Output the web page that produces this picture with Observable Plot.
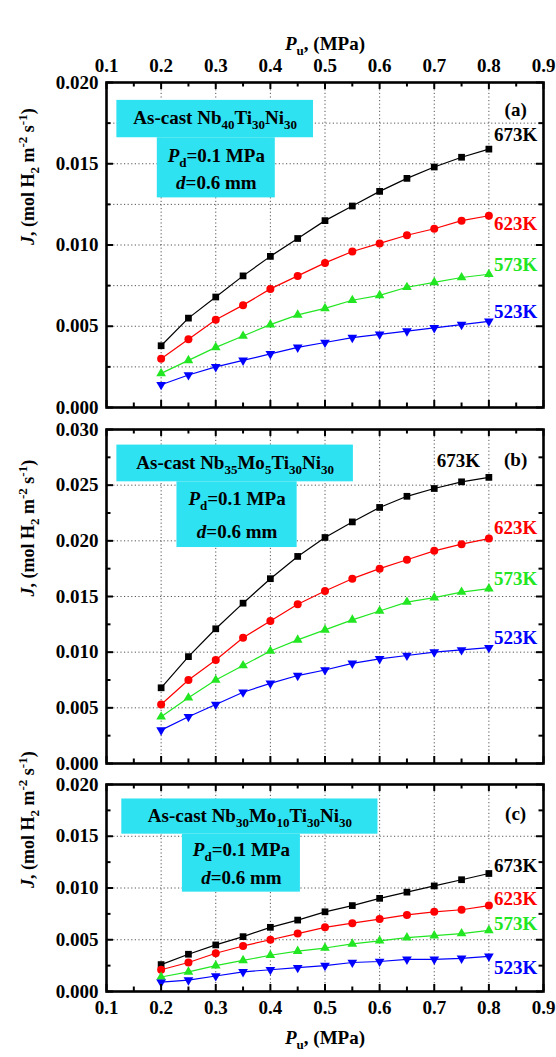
<!DOCTYPE html>
<html><head><meta charset="utf-8">
<script src="https://cdn.jsdelivr.net/npm/d3@7"></script>
<script src="https://cdn.jsdelivr.net/npm/@observablehq/plot@0.6"></script>
<style>
body{margin:0;background:#fff;}
#chart{position:relative;width:556px;height:1057px;background:#fff;}
#chart svg{position:absolute;left:0;overflow:visible;}
</style></head><body><div id="chart"></div>
<script>
// ---------- data ----------
const pu = [0.20,0.25,0.30,0.35,0.40,0.45,0.50,0.55,0.60,0.65,0.70,0.75,0.80];
const temps = ["673K","623K","573K","523K"];

const a673 = [0.0038,0.0055,0.0068,0.0081,0.0093,0.0104,0.0115,0.0124,0.0133,0.0141,0.0148,0.0154,0.0159];
const a623 = [0.0030,0.0042,0.0054,0.0063,0.0073,0.0081,0.0089,0.0096,0.0101,0.0106,0.0110,0.0115,0.0118];
const a573 = [0.0021,0.0029,0.0037,0.0044,0.0051,0.0057,0.0061,0.0066,0.0069,0.0074,0.0077,0.0080,0.0082];
const a523 = [0.0014,0.0020,0.0025,0.0029,0.0033,0.0037,0.0040,0.0043,0.0045,0.0047,0.0049,0.0051,0.0053];

const b673 = [0.0068,0.0096,0.0121,0.0144,0.0166,0.0186,0.0203,0.0217,0.0230,0.0240,0.0247,0.0253,0.0257];
const b623 = [0.0053,0.0075,0.0093,0.0113,0.0128,0.0143,0.0155,0.0166,0.0175,0.0183,0.0191,0.0197,0.0202];
const b573 = [0.0042,0.0059,0.0075,0.0088,0.0101,0.0111,0.0120,0.0129,0.0137,0.0145,0.0149,0.0154,0.0157];
const b523 = [0.0030,0.0042,0.0053,0.0064,0.0072,0.0079,0.0084,0.0090,0.0094,0.0097,0.0100,0.0102,0.0104];

const c673 = [0.0026,0.0036,0.0045,0.0053,0.0062,0.0069,0.0077,0.0083,0.0090,0.0096,0.0102,0.0108,0.0114];
const c623 = [0.0021,0.0028,0.0037,0.0044,0.0050,0.0056,0.0062,0.0066,0.0070,0.0074,0.0077,0.0079,0.0083];
const c573 = [0.0014,0.0019,0.0025,0.0030,0.0035,0.0039,0.0042,0.0046,0.0049,0.0052,0.0054,0.0056,0.0059];
const c523 = [0.0009,0.0011,0.0015,0.0019,0.0021,0.0023,0.0025,0.0028,0.0029,0.0031,0.0031,0.0032,0.0034];

const xTickLabels = [0.1,0.2,0.3,0.4,0.5,0.6,0.7,0.8,0.9];
const xMinorTicks = [0.15,0.25,0.35,0.45,0.55,0.65,0.75,0.85];
const xGridValues = [0.2,0.3,0.4,0.5,0.6,0.7,0.8];

const yTicksA = [0,0.005,0.010,0.015,0.020];
const yTicksB = [0,0.005,0.010,0.015,0.020,0.025,0.030];
const yTicksC = [0,0.005,0.010,0.015,0.020];
const yMinorA = [0.0025,0.0075,0.0125,0.0175];
const yMinorB = [0.0025,0.0075,0.0125,0.0175,0.0225,0.0275];
const yMinorC = [0.0025,0.0075,0.0125,0.0175];
const yGridA = [0.0025,0.005,0.0075,0.010,0.0125,0.015,0.0175];
const yGridB = [0.005,0.010,0.015,0.020,0.025];
const yGridC = [0.005,0.010,0.015];

const alloyA = "As-cast Nb_{40}Ti_{30}Ni_{30}";
const alloyB = "As-cast Nb_{35}Mo_{5}Ti_{30}Ni_{30}";
const alloyC = "As-cast Nb_{30}Mo_{10}Ti_{30}Ni_{30}";
const yLabel = "*J*, (mol H_{2} m^{-2} s^{-1})";
const xLabel = "*P*_{u}, (MPa)";
const pdLine = "*P*_{d}=0.1 MPa";
const dLine = "*d*=0.6 mm";

// ---------- styles ----------
const colors = ["#000000","#ff0000","#22e622","#0000ff"];
const symbols = ["square","circle","triangle","triangle"];
const rotations = [0,0,0,180];
const sizes = [3.8,4.0,3.6,3.6];
const boxColor = "#2ee2f2";
const FONT = "'Liberation Serif','Times New Roman',serif";
const W = 556, ML = 106, MR = 13, FW = W - ML - MR;

// markup: *italic*, _{sub}, ^{sup}
function rich(s){
  const segs = [];
  const re = /\*([^*]+)\*|_\{([^}]*)\}|\^\{([^}]*)\}|([^*_^]+)/g;
  let m;
  while ((m = re.exec(s))) {
    if (m[1] !== undefined) segs.push({t:m[1], k:"i"});
    else if (m[2] !== undefined) segs.push({t:m[2], k:"sub"});
    else if (m[3] !== undefined) segs.push({t:m[3], k:"sup"});
    else segs.push({t:m[4], k:"n"});
  }
  let cur = 0, out = "";
  for (const g of segs) {
    const off = g.k === "sub" ? 5 : g.k === "sup" ? -7 : 0;
    const dy = off - cur; cur = off;
    let attrs = dy ? ` dy="${dy}"` : "";
    if (g.k === "sub" || g.k === "sup") attrs += ` font-size="13"`;
    if (g.k === "i") attrs += ` font-style="italic"`;
    out += `<tspan${attrs}>${g.t}</tspan>`;
  }
  return out;
}

function panel(cfg){
  const H = cfg.height, FH = H - cfg.mt - cfg.mb;
  const marks = [];
  marks.push(Plot.gridX(xGridValues, {stroke:"#444", strokeOpacity:0.9, strokeWidth:1, strokeDasharray:"1.2,2.4"}));
  marks.push(Plot.gridY(cfg.yGrid, {stroke:"#444", strokeOpacity:0.9, strokeWidth:1, strokeDasharray:"1.2,2.4"}));
  marks.push(Plot.rect(cfg.boxes, {x1:"x1", x2:"x2", y1:"y1", y2:"y2", fill:boxColor}));
  cfg.series.forEach((vals,i)=>{
    const d = pu.map((p,j)=>({p, v: vals[j]}));
    marks.push(Plot.line(d, {x:"p", y:"v", stroke:colors[i], strokeWidth:1.2}));
    marks.push(Plot.dot(d, {x:"p", y:"v", fill:colors[i], symbol:symbols[i], r:sizes[i], rotate:rotations[i]}));
  });
  marks.push(Plot.text(cfg.labels.map((l,i)=>({x:l[0], y:l[1], t:temps[i], c:colors[i]})),
    {x:"x", y:"y", text:"t", fill:"c", textAnchor:"middle", fontSize:19, fontWeight:"bold"}));
  marks.push(Plot.text([cfg.tag], {x:d=>d.x, y:d=>d.y, text:d=>d.t, fill:"black", textAnchor:"middle", fontSize:19, fontWeight:"bold"}));
  marks.push(Plot.text(cfg.boxText, {x:"x", y:"y", text:"t", fill:"black", textAnchor:"middle", fontSize:19, fontWeight:"bold", className:"richtext"}));
  marks.push(Plot.frame({stroke:"black", strokeWidth:2.6}));
  const tw = 2;
  marks.push(Plot.tickY(cfg.yTicks, {y:d=>d, insetRight:FW-7, stroke:"black", strokeWidth:tw}));
  marks.push(Plot.tickY(cfg.yTicks, {y:d=>d, insetLeft:FW-7, stroke:"black", strokeWidth:tw}));
  marks.push(Plot.tickY(cfg.yMinor, {y:d=>d, insetRight:FW-4.5, stroke:"black", strokeWidth:tw}));
  marks.push(Plot.tickY(cfg.yMinor, {y:d=>d, insetLeft:FW-4.5, stroke:"black", strokeWidth:tw}));
  marks.push(Plot.tickX(xTickLabels, {x:d=>d, insetTop:FH-7, stroke:"black", strokeWidth:tw}));
  marks.push(Plot.tickX(xTickLabels, {x:d=>d, insetBottom:FH-7, stroke:"black", strokeWidth:tw}));
  marks.push(Plot.tickX(xMinorTicks, {x:d=>d, insetTop:FH-4.5, stroke:"black", strokeWidth:tw}));
  marks.push(Plot.tickX(xMinorTicks, {x:d=>d, insetBottom:FH-4.5, stroke:"black", strokeWidth:tw}));
  marks.push(Plot.axisY(cfg.yTicks, {anchor:"left", tickSize:0, tickPadding:8, tickFormat:d3.format(".3f"), label:null, fontSize:19, fontWeight:"bold"}));
  if (cfg.topAxis) {
    marks.push(Plot.axisX(xTickLabels, {anchor:"top", tickSize:0, tickPadding:11, tickFormat:d3.format(".1f"), label:null, fontSize:19, fontWeight:"bold"}));
    marks.push(Plot.text([xLabel], {frameAnchor:"top", dy:-46, text:d=>d, fontSize:19, fontWeight:"bold", className:"richtext"}));
  }
  if (cfg.bottomAxis) {
    marks.push(Plot.axisX(xTickLabels, {anchor:"bottom", tickSize:0, tickPadding:9, tickFormat:d3.format(".1f"), label:null, fontSize:19, fontWeight:"bold"}));
    marks.push(Plot.text([xLabel], {frameAnchor:"bottom", dy:52, text:d=>d, fontSize:19, fontWeight:"bold", className:"richtext"}));
  }
  marks.push(Plot.text([yLabel], {frameAnchor:"left", dx:-78, rotate:-90, text:d=>d, fontSize:18, fontWeight:"bold", className:"richtext"}));

  const svg = Plot.plot({
    width:W, height:H, marginLeft:ML, marginRight:MR, marginTop:cfg.mt, marginBottom:cfg.mb,
    style:{fontFamily:FONT, background:"transparent", overflow:"visible", color:"black"},
    x:{domain:[0.1,0.9], axis:null},
    y:{domain:[0,cfg.yMax], axis:null},
    marks
  });
  svg.style.top = cfg.top + "px";
  d3.select(svg).selectAll("g.richtext text").each(function(){
    this.innerHTML = rich(this.textContent);
  });
  document.getElementById("chart").appendChild(svg);
}

panel({
  top:0, height:417, mt:82, mb:10, yMax:0.020,
  yTicks:yTicksA, yMinor:yMinorA, yGrid:yGridA,
  series:[a673,a623,a573,a523],
  labels:[[0.849,0.0168],[0.849,0.0113],[0.849,0.0088],[0.849,0.0059]],
  tag:{x:0.849, y:0.0183, t:"(a)"},
  boxes:[{x1:0.119,x2:0.479,y1:0.0166,y2:0.0189},{x1:0.193,x2:0.409,y1:0.0129,y2:0.0166}],
  boxText:[{x:0.299,y:0.0178,t:alloyA},{x:0.301,y:0.0155,t:pdLine},{x:0.301,y:0.0138,t:dLine}],
  topAxis:true
});
panel({
  top:417, height:350, mt:12, mb:4, yMax:0.030,
  yTicks:yTicksB, yMinor:yMinorB, yGrid:yGridB,
  series:[b673,b623,b573,b523],
  labels:[[0.744,0.0272],[0.849,0.0212],[0.849,0.0166],[0.849,0.0113]],
  tag:{x:0.849, y:0.0273, t:"(b)"},
  boxes:[{x1:0.119,x2:0.552,y1:0.0253,y2:0.0286},{x1:0.229,x2:0.449,y1:0.0194,y2:0.0253}],
  boxText:[{x:0.3355,y:0.0270,t:alloyB},{x:0.339,y:0.0238,t:pdLine},{x:0.339,y:0.0208,t:dLine}],
});
panel({
  top:767, height:290, mt:17, mb:66, yMax:0.020,
  yTicks:yTicksC, yMinor:yMinorC, yGrid:yGridC,
  series:[c673,c623,c573,c523],
  labels:[[0.849,0.0121],[0.849,0.0089],[0.849,0.0065],[0.849,0.0023]],
  tag:{x:0.849, y:0.0172, t:"(c)"},
  boxes:[{x1:0.128,x2:0.597,y1:0.0152,y2:0.0186},{x1:0.239,x2:0.455,y1:0.0096,y2:0.0152}],
  boxText:[{x:0.3625,y:0.0170,t:alloyC},{x:0.347,y:0.0137,t:pdLine},{x:0.347,y:0.0110,t:dLine}],
  bottomAxis:true
});
</script></body></html>
